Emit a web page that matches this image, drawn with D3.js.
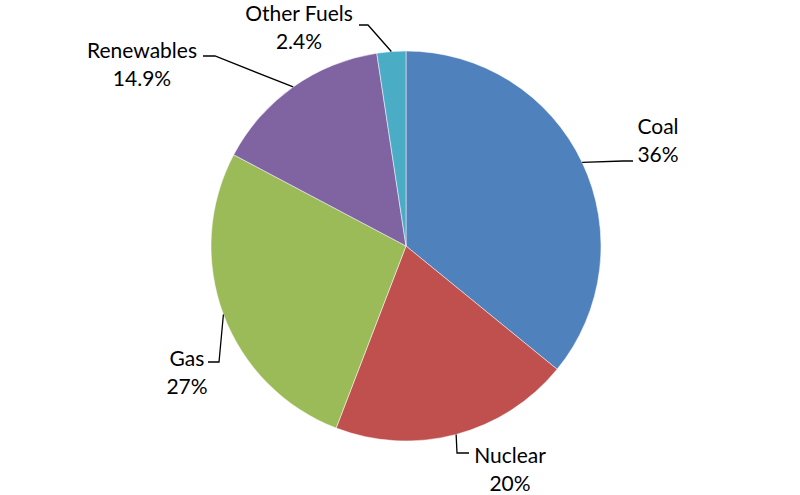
<!DOCTYPE html>
<html>
<head>
<meta charset="utf-8">
<script src="https://cdn.jsdelivr.net/npm/d3@7"></script>
<style>
  body { margin: 0; background: #fff; }
  svg { display: block; }
</style>
</head>
<body>
<svg class="chart"></svg>
<script>
var categories = ["Coal", "Nuclear", "Gas", "Renewables", "Other Fuels"];
var values = [36, 20, 27, 14.9, 2.4];
var valueLabels = ["36%", "20%", "27%", "14.9%", "2.4%"];
var colors = ["#4F81BD", "#C0504D", "#9BBB59", "#8064A2", "#4BACC6"];

// label layout: text centre x, first baseline y, knee point, line end x
var labelX = [658, 510, 187, 142, 299];
var labelY = [134, 463, 366, 58, 21];
var kneeX = [623, 457, 219, 215, 368];
var kneeY = [161, 453, 362, 56, 25];
var endX = [633, 469, 208, 203, 359];

var width = 800;
var height = 495;
var cx = 406;
var cy = 246;
var radius = 195;

var data = categories.map(function(c, i) {
  return {name: c, value: values[i], label: valueLabels[i], color: colors[i], i: i};
});

var svg = d3.select(".chart")
  .attr("width", width)
  .attr("height", height);

var pie = d3.pie()
  .sort(null)
  .value(function(d) { return d.value; });

var arc = d3.arc()
  .innerRadius(0)
  .outerRadius(radius);

var arcs = pie(data);

var g = svg.append("g")
  .attr("transform", "translate(" + cx + "," + cy + ")");

g.selectAll("path")
  .data(arcs)
  .enter()
  .append("path")
  .attr("d", arc)
  .attr("fill", function(d) { return d.data.color; })
  .attr("stroke", "#fff")
  .attr("stroke-width", 0.5);

// leader lines from slice edge at mid angle
svg.selectAll("polyline")
  .data(arcs)
  .enter()
  .append("polyline")
  .attr("points", function(d) {
    var a = (d.startAngle + d.endAngle) / 2;
    var x0 = cx + radius * Math.sin(a);
    var y0 = cy - radius * Math.cos(a);
    var i = d.data.i;
    return [[x0, y0], [kneeX[i], kneeY[i]], [endX[i], kneeY[i]]].join(" ");
  })
  .attr("fill", "none")
  .attr("stroke", "#000")
  .attr("stroke-width", 1.3);

var labels = svg.selectAll("text.lbl")
  .data(arcs)
  .enter()
  .append("text")
  .attr("class", "lbl")
  .attr("text-anchor", "middle")
  .attr("font-family", "Lato, 'Open Sans', sans-serif")
  .attr("font-size", "21px")
  .attr("fill", "#000");

labels.append("tspan")
  .attr("x", function(d) { return labelX[d.data.i]; })
  .attr("y", function(d) { return labelY[d.data.i]; })
  .text(function(d) { return d.data.name; });

labels.append("tspan")
  .attr("x", function(d) { return labelX[d.data.i]; })
  .attr("y", function(d) { return labelY[d.data.i] + 28; })
  .text(function(d) { return d.data.label; });
</script>
</body>
</html>
